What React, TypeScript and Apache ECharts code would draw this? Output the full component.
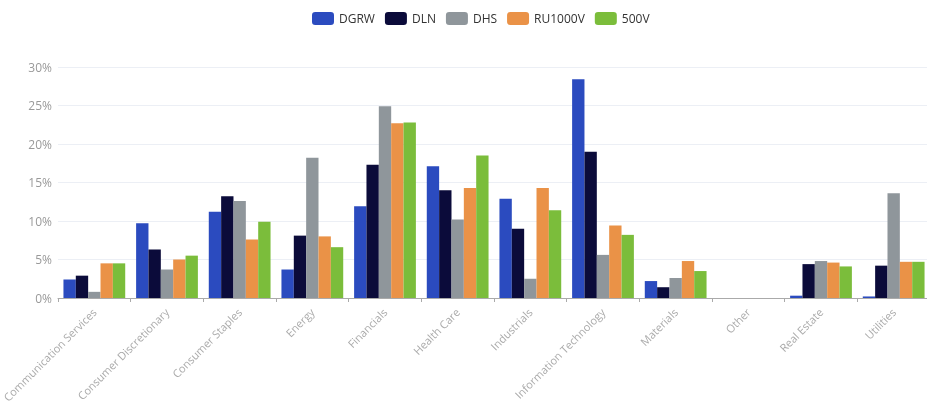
import React, { useEffect, useRef } from "react";
import * as echarts from "echarts";

const categories = [
  "Communication Services",
  "Consumer Discretionary",
  "Consumer Staples",
  "Energy",
  "Financials",
  "Health Care",
  "Industrials",
  "Information Technology",
  "Materials",
  "Other",
  "Real Estate",
  "Utilities",
];

const seriesNames = ["DGRW", "DLN", "DHS", "RU1000V", "500V"];
const colors = ["#2b4bbf", "#0b0b3a", "#8f969b", "#ea9247", "#7bbd3b"];

const dgrw = [2.4, 9.7, 11.2, 3.7, 11.9, 17.1, 12.9, 28.4, 2.2, 0, 0.3, 0.2];
const dln = [2.9, 6.3, 13.2, 8.1, 17.3, 14.0, 9.0, 19.0, 1.4, 0, 4.4, 4.2];
const dhs = [0.8, 3.7, 12.6, 18.2, 24.9, 10.2, 2.5, 5.6, 2.6, 0, 4.8, 13.6];
const ru1000v = [4.5, 5.0, 7.6, 8.0, 22.7, 14.3, 14.3, 9.4, 4.8, 0, 4.6, 4.7];
const sp500v = [4.5, 5.5, 9.9, 6.6, 22.8, 18.5, 11.4, 8.2, 3.5, 0, 4.1, 4.7];

const seriesData = [dgrw, dln, dhs, ru1000v, sp500v];

export default function App() {
  const ref = useRef<HTMLDivElement>(null);
  useEffect(() => {
    if (!ref.current) return;
    const chart = echarts.init(ref.current, undefined, { renderer: "svg" });
    chart.setOption({
      animation: false,
      color: colors,
      textStyle: { fontFamily: "Open Sans" },
      legend: {
        top: 7,
        left: 307,
        itemWidth: 22,
        itemHeight: 13,
        itemGap: 10,
        icon: "roundRect",
        textStyle: { color: "#333", fontSize: 12, fontFamily: "Open Sans" },
        data: seriesNames,
      },
      grid: {
        left: 58,
        right: -3,
        top: 67,
        bottom: 118,
        containLabel: false,
        outerBoundsMode: "none",
      },
      xAxis: {
        type: "category",
        data: categories,
        axisLine: { lineStyle: { color: "#aaa" } },
        axisTick: { show: true, length: 4, lineStyle: { color: "#aaa" } },
        axisLabel: {
          rotate: 45,
          interval: 0,
          color: "#aaa",
          fontSize: 11,
          margin: 12,
        },
      },
      yAxis: {
        type: "value",
        min: 0,
        max: 30,
        interval: 5,
        axisLabel: { formatter: "{value}%", color: "#999", fontSize: 12, margin: 6 },
        splitLine: { lineStyle: { color: "#eceff5" } },
        axisLine: { show: false },
        axisTick: { show: false },
      },
      series: seriesNames.map((name, i) => ({
        name,
        type: "bar",
        data: seriesData[i],
        barGap: "0%",
        barCategoryGap: "15%",
      })),
    });
    return () => chart.dispose();
  }, []);
  return (
    <div
      ref={ref}
      style={{ position: "fixed", left: 0, top: 0, width: 927, height: 416 }}
    />
  );
}
